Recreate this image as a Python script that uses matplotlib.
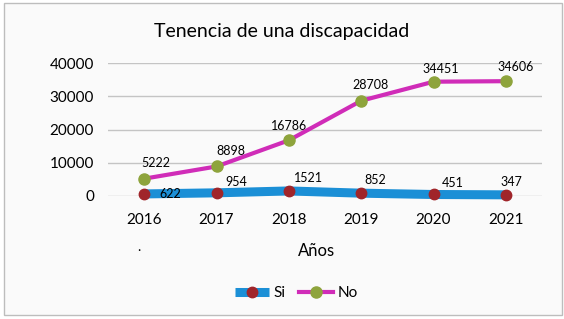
import matplotlib.pyplot as plt
from matplotlib.patches import Rectangle

plt.rcParams['font.family'] = ['Lato', 'DejaVu Sans']

anios = ['2016', '2017', '2018', '2019', '2020', '2021']
si = [622, 954, 1521, 852, 451, 347]
no = [5222, 8898, 16786, 28708, 34451, 34606]

# desplazamientos de las etiquetas (puntos)
off_si = [(19, 0), (14, 8), (14, 9.5), (10, 9.5), (14, 8.5), (4, 9.5)]
off_no = [(8.5, 11.5), (10, 11), (0, 10), (7, 11), (5, 9.5), (7, 10)]

fig = plt.figure(figsize=(5.64, 3.19), dpi=100)
fig.patches.append(Rectangle((0.007, 0.0125), 0.9895, 0.977, transform=fig.transFigure,
                             facecolor='#fafafa', edgecolor='#bdbdbd', linewidth=1, zorder=-1))
ax = fig.add_axes([0.1915, 0.3856, 0.7695, 0.416])
ax.patch.set_visible(False)

x = list(range(len(anios)))
ax.plot(x, si, color='#1b8fd6', linewidth=6.5, solid_capstyle='butt', zorder=3, clip_on=False,
        marker='o', markersize=7.5, markerfacecolor='#a0252a', markeredgecolor='#a0252a', label='Si')
ax.plot(x, no, color='#d02cb8', linewidth=3, zorder=4, clip_on=False,
        marker='o', markersize=8, markerfacecolor='#8ea43c', markeredgecolor='#8ea43c', label='No')

for i, v in enumerate(no):
    ax.annotate(str(v), (i, v), xytext=off_no[i], textcoords='offset points',
                ha='center', va='center', fontsize=9)
for i, v in enumerate(si):
    ax.annotate(str(v), (i, v), xytext=off_si[i], textcoords='offset points',
                ha='center', va='center', fontsize=9)

ax.set_xlim(-0.5, len(anios) - 0.5)
ax.set_ylim(0, 40000)
ax.set_yticks([0, 10000, 20000, 30000, 40000])
ax.set_xticks(x)
ax.set_xticklabels(anios)
ax.tick_params(length=0, labelsize=11, pad=10)
ax.tick_params(axis='x', pad=12)
ax.grid(axis='y', color='#c4c4c4', linewidth=1)
ax.set_axisbelow(True)
for s in ax.spines.values():
    s.set_visible(False)

fig.text(0.5, 0.9, 'Tenencia de una discapacidad', ha='center', va='center', fontsize=14)
fig.text(0.562, 0.214, 'Años', ha='center', va='center', fontsize=12)
fig.text(0.246, 0.225, '.', ha='center', va='center', fontsize=10)

fig.legend(loc='center', bbox_to_anchor=(0.526, 0.08), ncol=2, frameon=False,
           fontsize=11, handlelength=2.2, columnspacing=0.9, handletextpad=0.3)

fig.savefig('out.png', dpi=100)
